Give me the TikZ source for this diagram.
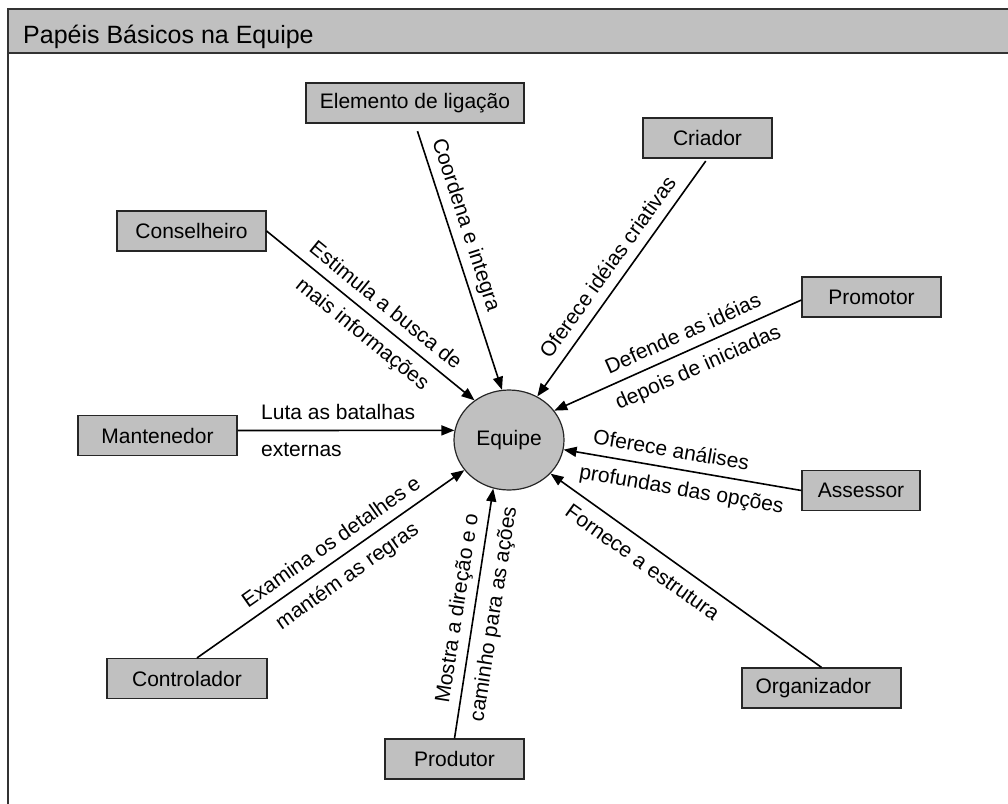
\documentclass[tikz,border=0pt]{standalone}
\usepackage{fontspec}
\setmainfont{Liberation Sans}
\usetikzlibrary{arrows.meta,shapes.geometric}
\definecolor{boxgray}{HTML}{C0C0C0}

\begin{document}
\begin{tikzpicture}[x=1pt,y=-1pt,
    role/.style={draw=black!85,fill=boxgray,line width=1.2pt,
      minimum height=40pt,inner sep=0pt,font=\fontsize{21}{25}\selectfont},
    link/.style={line width=1.6pt,-{Triangle[length=13pt,width=10pt]}},
    tag/.style={sloped,inner sep=3pt,text height=15pt,text depth=4pt,
      font=\fontsize{21}{25}\selectfont},
    up/.style={tag,above=3pt},
    down/.style={tag,below=7pt}]

    % Frame and title bar.
    \useasboundingbox (0,0) rectangle (1008,803);
    \filldraw[fill=boxgray,draw=black!80,line width=1.5pt] (8,9) rectangle (1012,53);
    \draw[black!80,line width=1.5pt] (8,53) -- (8,806);
    \node[anchor=base west,inner sep=0pt,font=\fontsize{25}{30}\selectfont] (title) at (23,43) {Papéis Básicos na Equipe};

    % The team in the middle.
    \node[draw=black!85,fill=boxgray,ellipse,line width=1.2pt,minimum width=110pt,minimum height=100pt,
      inner sep=0pt,font=\fontsize{21}{25}\selectfont] (eq) at (509,440) {Equipe};

    % Roles.
    \node[role,minimum width=218pt] (elem) at (415,103) {Elemento de ligação};
    \node[role,minimum width=129pt] (criador) at (707.5,138) {Criador};
    \node[role,minimum width=149pt] (consel) at (191.5,231) {Conselheiro};
    \node[role,minimum width=139pt] (promotor) at (871.5,297) {Promotor};
    \node[role,minimum width=118pt] (assessor) at (861,490.5) {Assessor};
    \node[role,minimum width=159pt,text width=132pt] (organiz) at (821.5,688) {Organizador};
    \node[role,minimum width=159pt] (manten) at (157.5,435.5) {Mantenedor};
    \node[role,minimum width=160pt] (control) at (187,678.5) {Controlador};
    \node[role,minimum width=139pt] (produtor) at (454.5,759) {Produtor};

    % Connectors.
    \draw[link,shorten <=8pt] (elem.south) -- node[up,pos=.4] {Coordena e integra} (eq.98);
    \draw[link,shorten <=3pt] (criador.south) -- node[up,pos=.5] {Oferece idéias criativas} (eq.57);
    \draw[link] (consel.east) -- node[up,pos=.52] {Estimula a busca de}
      node[down,pos=.52] {mais informações} (eq.131);
    \draw[link] (promotor.west) ++(0,3) -- node[up,pos=.45] {Defende as idéias}
      node[down,pos=.45] {depois de iniciadas} (eq.33);
    \draw[link] (assessor.west) -- node[up,pos=.56] {Oferece análises}
      node[down,pos=.49] {profundas das opções} (eq.-10);
    \draw[link] (organiz.north) -- node[down,pos=.62] {Fornece a estrutura} (eq.-39);
    \draw[link] (manten.east) ++(0,-5) -- node[tag,pos=.105,anchor=south west,yshift=3pt,inner xsep=0pt] {Luta as batalhas}
      node[tag,pos=.105,anchor=north west,yshift=-7pt,inner xsep=0pt] {externas} (eq.170);
    \draw[link] (control.north) ++(10,0) -- node[up,pos=.54] {Examina os detalhes e}
      node[down,pos=.52] {mantém as regras} (eq.214);
    \draw[link] (produtor.north) -- node[up,pos=.51] {Mostra a direção e o}
      node[down,pos=.51] {caminho para as ações} (eq.252);
\end{tikzpicture}
\end{document}
